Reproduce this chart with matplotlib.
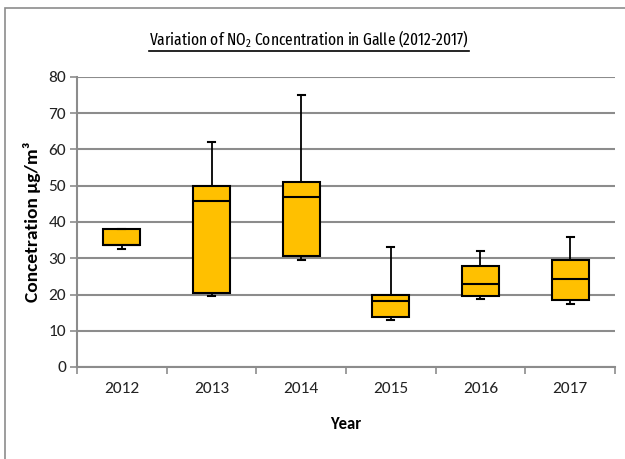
import matplotlib
matplotlib.use("Agg")
import matplotlib.pyplot as plt
from matplotlib.lines import Line2D
from matplotlib.patches import Rectangle

years = ["2012", "2013", "2014", "2015", "2016", "2017"]
whisker_low = [32.5, 19.7, 29.5, 12.9, 18.7, 17.5]
q1 = [33.6, 20.5, 30.6, 13.9, 19.6, 18.6]
median = [33.6, 45.9, 47.0, 18.1, 23.0, 24.4]
q3 = [38.0, 49.9, 51.0, 19.9, 27.9, 29.5]
whisker_high = [38.0, 62.1, 74.9, 33.0, 31.9, 35.8]
yticks = [0, 10, 20, 30, 40, 50, 60, 70, 80]

FONT = ['Carlito', 'DejaVu Sans']
TITLE_FONT = 'Fira Sans Extra Condensed'
plt.rcParams['font.family'] = FONT
plt.rcParams['mathtext.fontset'] = 'custom'
plt.rcParams['mathtext.rm'] = TITLE_FONT
plt.rcParams['mathtext.it'] = TITLE_FONT
plt.rcParams['mathtext.bf'] = TITLE_FONT + ':bold'

fig = plt.figure(figsize=(6.25, 4.59), dpi=100)
W, H = 625, 459
ax = fig.add_axes([77 / W, 1 - 367 / H, (615 - 77) / W, (367 - 77) / H])

stats = []
for i in range(len(years)):
    stats.append(dict(whislo=whisker_low[i], q1=q1[i], med=median[i], q3=q3[i],
                      whishi=whisker_high[i], fliers=[], label=years[i]))

grid_c = "#8c8c8c"
ax.bxp(stats, positions=range(1, len(years) + 1), widths=0.41, patch_artist=True,
       showfliers=False,
       boxprops=dict(facecolor="#FFC000", edgecolor="black", linewidth=1.5),
       medianprops=dict(color="black", linewidth=1.5),
       whiskerprops=dict(color="black", linewidth=1.3),
       capprops=dict(color="black", linewidth=1.5),
       capwidths=0.08, zorder=3)

ax.set_xlim(0.5, len(years) + 0.5)
ax.set_ylim(0, 80)
ax.set_yticks(yticks)
ax.set_xticks(range(1, len(years) + 1))
ax.set_xticklabels(years)
ax.set_xticks([i + 0.5 for i in range(len(years) + 1)], minor=True)
ax.tick_params(axis='x', which='major', length=0, pad=11, labelsize=12.5, labelcolor="#222222")
ax.tick_params(axis='x', which='minor', length=5, color=grid_c, width=1.2)
ax.tick_params(axis='y', length=5, color=grid_c, width=1.2, labelsize=12.5, pad=3, labelcolor="#222222")

ax.yaxis.grid(True, color=grid_c, linewidth=1.5)
ax.set_axisbelow(True)
for s in ['top', 'right']:
    ax.spines[s].set_visible(False)
for s in ['left', 'bottom']:
    ax.spines[s].set_color(grid_c)
    ax.spines[s].set_linewidth(1.5)

ax.set_ylabel("Concetration µg/m³", fontsize=14, fontweight='bold', labelpad=5)
ax.set_xlabel("Year", fontsize=12, fontweight='bold', labelpad=14)

t = fig.text(309 / W, 1 - 39 / H, "Variation of NO$_2$ Concentration in Galle (2012-2017)",
             ha='center', va='center', fontsize=14, color='black', fontweight='normal',
             family=[TITLE_FONT, 'Carlito', 'DejaVu Sans'])
fig.canvas.draw()
bb = t.get_window_extent()
t.set_fontsize(14 * 320 / bb.width)
fig.canvas.draw()
bb = t.get_window_extent()
yline = 1 - 51 / H
fig.add_artist(Line2D([bb.x0 / W, bb.x1 / W], [yline, yline], transform=fig.transFigure,
                      color='black', linewidth=1.2))

fig.add_artist(Rectangle((5 / W, -0.1), 1.2, (1 - 8 / H) + 0.1, transform=fig.transFigure,
                         fill=False, edgecolor="#8c8c8c", linewidth=1.2))

fig.savefig("out.png", dpi=100)
